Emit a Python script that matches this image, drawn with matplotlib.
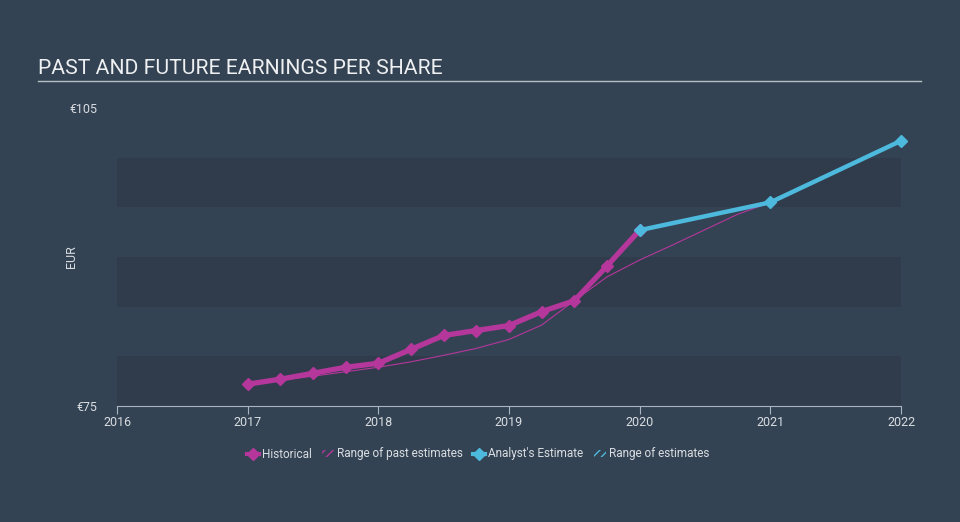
import matplotlib
matplotlib.use("Agg")
import matplotlib.pyplot as plt
from matplotlib.lines import Line2D
from matplotlib.patches import Patch

# data
hist_x = [2017.0, 2017.25, 2017.5, 2017.75, 2018.0, 2018.25, 2018.5, 2018.75,
          2019.0, 2019.25, 2019.5, 2019.75, 2020.0]
hist_eps = [77.2, 77.7, 78.3, 78.9, 79.3, 80.7, 82.1, 82.6,
            83.1, 84.5, 85.6, 89.1, 92.7]

past_est_x = [2017.0, 2017.25, 2017.5, 2017.75, 2018.0, 2018.25, 2018.5, 2018.75,
              2019.0, 2019.25, 2019.5, 2019.75, 2020.0, 2020.25, 2020.5, 2020.75, 2021.0]
past_est = [77.1, 77.6, 78.0, 78.45, 78.9, 79.45, 80.1, 80.8,
            81.7, 83.15, 85.6, 88.0, 89.7, 91.2, 92.75, 94.3, 95.5]

fc_x = [2020.0, 2021.0, 2022.0]
fc_eps = [92.7, 95.5, 101.7]

x_ticks = [2016, 2017, 2018, 2019, 2020, 2021, 2022]
y_ticks = [75, 105]
y_labels = ["€75", "€105"]
dark_bands = [(75, 80), (85, 90), (95, 100)]

BG = "#344353"
BAND = "#303c4b"
MAG = "#b5379c"
CYAN = "#4cb9dd"
TXT = "#d9dde2"

plt.rcParams["font.family"] = ["Roboto", "DejaVu Sans"]

fig = plt.figure(figsize=(9.6, 5.22), dpi=100, facecolor=BG)
ax = fig.add_axes([117 / 960, 116 / 522, 784 / 960, 298 / 522])
ax.set_facecolor(BG)

for lo, hi in dark_bands:
    ax.axhspan(lo, hi, color=BAND, lw=0, zorder=0)

ax.plot(past_est_x, past_est, color=MAG, lw=0.8, zorder=2)
ax.plot(hist_x, hist_eps, color=MAG, lw=3.8, marker="D", ms=6, zorder=3)
ax.plot(fc_x, fc_eps, color=CYAN, lw=3.2, marker="D", ms=6, zorder=4, clip_on=False)

ax.set_xlim(2016, 2022)
ax.set_ylim(75, 105)
ax.set_xticks(x_ticks)
ax.set_xticklabels([str(t) for t in x_ticks], color=TXT, fontsize=9)
ax.set_yticks(y_ticks)
ax.set_yticklabels(y_labels, color=TXT, fontsize=9)
ax.tick_params(axis="x", length=6, color="#aab4c0", pad=1)
ax.tick_params(axis="y", length=0, pad=14)
for s in ["top", "right", "left"]:
    ax.spines[s].set_visible(False)
ax.spines["bottom"].set_color("#aab4c0")
ax.set_ylabel("EUR", color=TXT, fontsize=9)
ax.yaxis.set_label_coords(-0.05, 0.5)

fig.text(38 / 960, 1 - 68 / 522, "PAST AND FUTURE EARNINGS PER SHARE",
         color="#eef0f2", fontsize=15.2, va="center", ha="left")
fig.add_artist(Line2D([38 / 960, 921 / 960], [1 - 81 / 522, 1 - 81 / 522],
                      color="#b8bec6", lw=1))

handles = [
    Line2D([], [], color=MAG, lw=3, marker="D", ms=6),
    Patch(facecolor="none", edgecolor=MAG, hatch="////", lw=0),
    Line2D([], [], color=CYAN, lw=3, marker="D", ms=6),
    Patch(facecolor="none", edgecolor=CYAN, hatch="////", lw=0),
]
labels = ["Historical", "Range of past estimates", "Analyst's Estimate", "Range of estimates"]
leg = fig.legend(handles, labels, loc="center", bbox_to_anchor=(478 / 960, 1 - 454 / 522),
                 ncol=4, frameon=False, fontsize=8.5, labelcolor=TXT,
                 handlelength=1.0, handleheight=0.6, handletextpad=0.25,
                 columnspacing=0.9)

fig.savefig("out.png", dpi=100, facecolor=BG)
